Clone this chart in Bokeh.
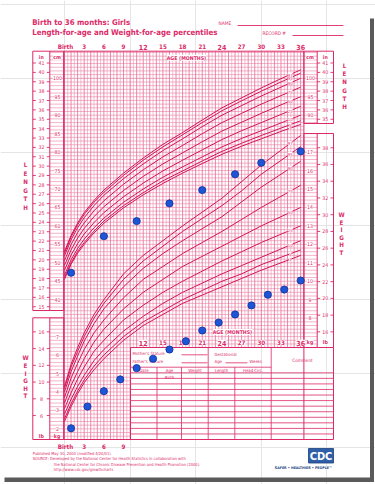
import numpy as np
from bokeh.plotting import figure
from bokeh.models import Range1d
from bokeh.core.properties import value
from bokeh.embed import file_html
from bokeh.resources import INLINE

# ---------------- data ----------------
curve_months = [0, 1, 2, 3, 4.5, 6, 9, 12, 15, 18, 21, 24, 27, 30, 33, 36]
percentile_names = ["3", "5", "10", "25", "50", "75", "90", "95", "97"]

length_p3 = [45.5, 49.6, 52.6, 55.0, 58.1, 60.7, 64.9, 68.4, 71.5, 74.3, 76.9, 79.4, 81.6, 83.6, 85.6, 87.5]
length_p5 = [46.0, 50.0, 53.1, 55.5, 58.6, 61.3, 65.5, 69.0, 72.2, 74.9, 77.6, 80.2, 82.4, 84.5, 86.5, 88.5]
length_p10 = [46.7, 50.8, 53.9, 56.4, 59.5, 62.1, 66.4, 70.0, 73.2, 76.0, 78.7, 81.4, 83.7, 85.8, 87.9, 90.0]
length_p25 = [48.0, 52.1, 55.2, 57.8, 60.9, 63.6, 67.9, 71.6, 74.9, 77.8, 80.6, 83.4, 85.8, 88.0, 90.2, 92.4]
length_p50 = [49.3, 53.5, 56.7, 59.3, 62.5, 65.2, 69.6, 73.4, 76.8, 79.8, 82.8, 85.7, 88.1, 90.5, 92.8, 95.0]
length_p75 = [50.6, 54.9, 58.2, 60.8, 64.1, 66.8, 71.3, 75.2, 78.7, 81.8, 85.0, 88.0, 90.5, 93.0, 95.3, 97.6]
length_p90 = [51.9, 56.2, 59.5, 62.2, 65.5, 68.3, 72.8, 76.8, 80.4, 83.6, 86.9, 90.0, 92.6, 95.2, 97.6, 100.0]
length_p95 = [52.6, 57.0, 60.3, 63.1, 66.4, 69.1, 73.7, 77.8, 81.4, 84.7, 88.0, 91.2, 93.9, 96.5, 99.0, 101.4]
length_p97 = [53.1, 57.4, 60.8, 63.6, 66.9, 69.7, 74.3, 78.4, 82.1, 85.3, 88.7, 92.0, 94.7, 97.4, 99.9, 102.3]

weight_p3 = [2.4, 3.2, 3.9, 4.5, 5.2, 5.8, 6.8, 7.6, 8.2, 8.8, 9.25, 9.7, 10.15, 10.6, 11.0, 11.4]
weight_p5 = [2.55, 3.35, 4.05, 4.65, 5.4, 6.0, 7.0, 7.8, 8.4, 9.0, 9.5, 10.0, 10.4, 10.9, 11.3, 11.7]
weight_p10 = [2.8, 3.6, 4.3, 4.9, 5.7, 6.3, 7.3, 8.1, 8.8, 9.4, 9.9, 10.4, 10.85, 11.3, 11.75, 12.2]
weight_p25 = [3.1, 3.95, 4.7, 5.35, 6.2, 6.8, 7.9, 8.7, 9.4, 10.0, 10.55, 11.1, 11.6, 12.1, 12.55, 13.0]
weight_p50 = [3.4, 4.35, 5.1, 5.8, 6.7, 7.4, 8.5, 9.4, 10.1, 10.8, 11.35, 11.9, 12.45, 13.0, 13.5, 14.0]
weight_p75 = [3.7, 4.75, 5.55, 6.3, 7.2, 7.9, 9.1, 10.1, 10.8, 11.5, 12.1, 12.7, 13.35, 14.0, 14.6, 15.2]
weight_p90 = [4.0, 5.1, 5.95, 6.75, 7.7, 8.5, 9.7, 10.7, 11.5, 12.2, 12.85, 13.5, 14.3, 15.1, 15.8, 16.5]
weight_p95 = [4.2, 5.35, 6.2, 7.0, 8.0, 8.8, 10.1, 11.1, 11.9, 12.7, 13.4, 14.1, 14.9, 15.8, 16.55, 17.3]
weight_p97 = [4.3, 5.5, 6.4, 7.2, 8.2, 9.0, 10.4, 11.4, 12.2, 13.0, 13.75, 14.5, 15.4, 16.3, 17.1, 17.9]

length_months = [1, 6, 11, 16, 21, 26, 30, 36]
length_cm = [47.3, 57.2, 61.3, 66.1, 69.7, 74.0, 77.1, 80.2]
weight_months = [1, 3.5, 6, 8.5, 11, 13.5, 16, 18.5, 21, 23.5, 26, 28.5, 31, 33.5, 36]
weight_kg = [2.03, 3.21, 4.04, 4.68, 5.29, 5.80, 6.30, 6.75, 7.33, 7.76, 8.20, 8.69, 9.27, 9.55, 10.04]

top_age_labels = ["Birth", "3", "6", "9", "12", "15", "18", "21", "24", "27", "30", "33", "36"]
top_age_months = [0, 3, 6, 9, 12, 15, 18, 21, 24, 27, 30, 33, 36]
lower_age_labels = ["12", "15", "18", "21", "24", "27", "30", "33", "36"]
lower_age_months = [12, 15, 18, 21, 24, 27, 30, 33, 36]
bottom_age_labels = ["Birth", "3", "6", "9"]
bottom_age_months = [0, 3, 6, 9]

left_cm_ticks = [40, 45, 50, 55, 60, 65, 70, 75, 80, 85, 90, 95, 100]
left_in_ticks = list(range(15, 42))
right_cm_ticks = [90, 95, 100]
right_in_ticks = list(range(35, 42))
left_kg_ticks = [2, 3, 4, 5, 6, 7]
left_lb_ticks = [6, 8, 10, 12, 14, 16]
right_kg_ticks = [8, 9, 10, 11, 12, 13, 14, 15, 16, 17]
right_lb_ticks = [16, 18, 20, 22, 24, 26, 28, 30, 32, 34, 36, 38]

# ---------------- geometry / style ----------------
W, H = 375, 484
X0, XS = 64.0, 6.56        # page px of birth, px per month
Y50, CS = 262.3, 3.69      # page px of 50 cm, px per cm
KG50 = 11.0                # kg value sharing the 50 cm line (1 cm == 0.2 kg)

PINK = "#DC2A68"
GRID = "#EA6994"
CURVE = "#D0165A"
NARROW = "Liberation Sans Narrow, DejaVu Sans Condensed, Liberation Sans, sans-serif"


def X(px):
    return (px - X0) / XS


def Y(py):
    return 50 + (Y50 - py) / CS


p = figure(width=W, height=H, output_backend="svg", toolbar_location=None,
           x_axis_location=None, y_axis_location=None, min_border=0,
           x_range=Range1d(X(0), X(W)), y_range=Range1d(Y(H), Y(0)))
p.extra_y_ranges = {"kg": Range1d(KG50 + (Y(H) - 50) / 5, KG50 + (Y(0) - 50) / 5)}
p.outline_line_color = None
p.background_fill_color = "white"
p.border_fill_color = "white"


def segs(lst, color=PINK, width=1.0, alpha=1.0):
    p.segment(x0=[X(a[0]) for a in lst], y0=[Y(a[1]) for a in lst],
              x1=[X(a[2]) for a in lst], y1=[Y(a[3]) for a in lst],
              line_color=color, line_width=width, line_alpha=alpha)


def box(x0, y0, x1, y1, color=PINK, width=1.0):
    segs([(x0, y0, x1, y0), (x1, y0, x1, y1), (x1, y1, x0, y1), (x0, y1, x0, y0)], color, width)


def txt(xs, ys, ss, size=5.0, bold=False, align="center", color=PINK, bg=None, yname=None):
    kw = {}
    if bg:
        kw["background_fill_color"] = bg
    if yname:
        kw["y_range_name"] = yname
    p.text(x=xs, y=ys, text=ss, text_font=value(NARROW), text_font_size=f"{size}px",
           text_font_style="bold" if bold else "normal", text_align=align,
           text_baseline="middle", text_color=color, **kw)


def ptxt(px, py, s, **kw):
    txt([X(px)], [Y(py)], [s], **kw)


# ---------------- grid ----------------
GT, GB, GL, GR = 50.7, 439.0, 63.3, 303.4
TBL_X, TBL_Y = 130.0, 347.0
hl = []
for c in range(3, 108):
    py = Y50 - (c - 50) * CS
    x0 = GL
    x1 = GR if py <= TBL_Y else TBL_X
    if (GT <= py <= 310) or (317.3 <= py <= GB):
        x0 = 49.3
    if x1 == GR and ((GT <= py <= 123) or (133 <= py <= TBL_Y)):
        x1 = 316.7
    hl.append((x0, py, x1, py))
segs(hl, GRID, 0.6, 0.85)
vl_full, vl_half = [], []
for h in range(0, 74):
    px = X0 + (h / 2) * XS
    if px > GR:
        continue
    y1 = GB if px < TBL_X else TBL_Y
    (vl_full if h % 2 == 0 else vl_half).append((px, GT, px, y1))
segs(vl_full, GRID, 0.8, 1.0)
segs(vl_half, GRID, 0.55, 0.8)

# ---------------- frames ----------------
box(32.3, GT, GL, 310)
segs([(49.3, GT, 49.3, 310)])
box(32.3, 317.3, GL, GB)
segs([(49.3, 317.3, 49.3, GB)])
box(GL, GT, GR, GB)
box(GR, GT, 333, 123)
segs([(316.7, GT, 316.7, 123)])
box(GR, 133, 333, TBL_Y)
segs([(316.7, 133, 316.7, TBL_Y)])
box(TBL_X, TBL_Y, 333, GB)

# scale tick marks
ticks = []
for v in left_in_ticks:
    py = Y50 - (v * 2.54 - 50) * CS
    ticks += [(32.3, py, 35.3, py), (46.3, py, 49.3, py)]
for v in right_in_ticks:
    py = Y50 - (v * 2.54 - 50) * CS
    ticks += [(316.7, py, 319.7, py), (330, py, 333, py)]
for v in left_lb_ticks:
    py = Y50 - ((v * 0.45359 - KG50) * 5) * CS
    ticks += [(32.3, py, 35.3, py), (46.3, py, 49.3, py)]
for v in right_lb_ticks:
    py = Y50 - ((v * 0.45359 - KG50) * 5) * CS
    ticks += [(316.7, py, 319.7, py), (330, py, 333, py)]
segs(ticks, PINK, 0.9)

# ---------------- percentile curves ----------------
length_curves = [length_p3, length_p5, length_p10, length_p25, length_p50,
                 length_p75, length_p90, length_p95, length_p97]
weight_curves = [weight_p3, weight_p5, weight_p10, weight_p25, weight_p50,
                 weight_p75, weight_p90, weight_p95, weight_p97]
for vals in length_curves:
    p.line(curve_months, vals, line_color=CURVE, line_width=1.0)
for vals in weight_curves:
    p.line(curve_months, vals, line_color=CURVE, line_width=1.0, y_range_name="kg")
lab_m = 34.4
txt([lab_m] * 9, [float(np.interp(lab_m, curve_months, v)) for v in length_curves],
    percentile_names, size=4.2, bg="white")
txt([lab_m] * 9, [float(np.interp(lab_m, curve_months, v)) for v in weight_curves],
    percentile_names, size=4.2, bg="white", yname="kg")

# ---------------- scale labels ----------------
txt([X(57)] * len(left_cm_ticks), left_cm_ticks, [str(v) for v in left_cm_ticks], size=5.2, bg="white")
txt([X(41)] * len(left_in_ticks), [v * 2.54 for v in left_in_ticks], [str(v) for v in left_in_ticks], size=5.2, bg="white")
txt([X(310)] * len(right_cm_ticks), right_cm_ticks, [str(v) for v in right_cm_ticks], size=5.2, bg="white")
txt([X(324.8)] * len(right_in_ticks), [v * 2.54 for v in right_in_ticks], [str(v) for v in right_in_ticks], size=5.2, bg="white")
txt([X(57)] * len(left_kg_ticks), left_kg_ticks, [str(v) for v in left_kg_ticks], size=5.2, bg="white", yname="kg")
txt([X(41)] * len(left_lb_ticks), [v * 0.45359 for v in left_lb_ticks], [str(v) for v in left_lb_ticks], size=5.2, bg="white", yname="kg")
txt([X(309.5)] * len(right_kg_ticks), right_kg_ticks, [str(v) for v in right_kg_ticks], size=5.2, bg="white", yname="kg")
txt([X(324.8)] * len(right_lb_ticks), [v * 0.45359 for v in right_lb_ticks], [str(v) for v in right_lb_ticks], size=5.2, bg="white", yname="kg")

ptxt(40.8, 56.2, "in", size=5.2, bold=True, bg="white")
ptxt(56.5, 56.2, "cm", size=5.2, bold=True, bg="white")
ptxt(309.5, 56.2, "cm", size=5.2, bold=True, bg="white")
ptxt(324.8, 56.2, "in", size=5.2, bold=True, bg="white")
ptxt(40.8, 435.5, "lb", size=5.2, bold=True, bg="white")
ptxt(56.5, 435.5, "kg", size=5.2, bold=True, bg="white")
ptxt(309.5, 341.5, "kg", size=5.2, bold=True, bg="white")
ptxt(324.8, 341.5, "lb", size=5.2, bold=True, bg="white")

# side words
for i, ch in enumerate("LENGTH"):
    ptxt(25, 164 + i * 8.6, ch, size=6.2, bold=True)
    ptxt(344, 65 + i * 8.2, ch, size=6.2, bold=True)
for i, ch in enumerate("WEIGHT"):
    ptxt(25, 357.3 + i * 7.6, ch, size=6.2, bold=True)
    ptxt(341, 214 + i * 7.6, ch, size=6.2, bold=True)

# age labels (12, 24, 36 emphasised)
big = {"12", "24", "36"}
for lab, m in zip(top_age_labels, top_age_months):
    txt([0.15 if m == 0 else m], [Y(46)], [lab], size=7.0 if lab in big else 6.2, bold=True)
for lab, m in zip(lower_age_labels, lower_age_months):
    txt([m], [Y(342.3)], [lab], size=7.0 if lab in big else 6.2, bold=True, bg="white")
txt([0.15] + bottom_age_months[1:], [Y(445.5)] * len(bottom_age_months), bottom_age_labels, size=6.2, bold=True)
ptxt(186, 57.3, "AGE (MONTHS)", size=5.2, bold=True, bg="white")
ptxt(232, 331.5, "AGE (MONTHS)", size=5.2, bold=True, bg="white")

# ---------------- titles ----------------
ptxt(31.7, 21.5, "Birth to 36 months: Girls", size=7.8, bold=True, align="left")
ptxt(31.7, 31.5, "Length-for-age and Weight-for-age percentiles", size=7.8, bold=True, align="left")
ptxt(218, 23, "NAME", size=4.8, align="left")
segs([(237, 25, 343, 25)], PINK, 0.9)
ptxt(262, 33, "RECORD #", size=4.8, align="left")
segs([(292, 35, 343, 35)], PINK, 0.9)

# ---------------- table ----------------
tl = [(TBL_X, 366.7, 270.7, 366.7)]
for i in range(0, 12):
    yy = 372.3 + i * 5.56
    tl.append((TBL_X, yy, 333, yy))
tl += [(156.5, 366.7, 156.5, GB), (181, 366.7, 181, GB), (207.7, TBL_Y, 207.7, GB),
       (234.3, 366.7, 234.3, GB), (270.7, TBL_Y, 270.7, GB),
       (181, 354.3, 207, 354.3), (181, 362.3, 207, 362.3), (225, 362.3, 247, 362.3)]
segs(tl, PINK, 0.8)
ptxt(132, 352.7, "Mother's Stature", size=4.3, align="left")
ptxt(132, 361, "Father's Stature", size=4.3, align="left")
ptxt(214, 354, "Gestational", size=4.3, align="left")
ptxt(214, 361, "Age", size=4.3, align="left")
ptxt(249, 361, "Weeks", size=4.3, align="left")
ptxt(302, 360, "Comment", size=4.6)
txt([X(143.5), X(169), X(194.5), X(221), X(252.5)], [Y(369.5)] * 5,
    ["Date", "Age", "Weight", "Length", "Head Circ."], size=4.3)
ptxt(169, 376.5, "Birth", size=4.3)

# ---------------- footer ----------------
ptxt(32.3, 452.7, "Published May 30, 2000 (modified 4/20/01).", size=4.0, align="left")
ptxt(32.3, 458.3, "SOURCE: Developed by the National Center for Health Statistics in collaboration with", size=4.0, align="left")
ptxt(53.3, 463.5, "the National Center for Chronic Disease Prevention and Health Promotion (2000).", size=4.0, align="left")
ptxt(53.3, 469, "http://www.cdc.gov/growthcharts", size=4.0, align="left")

# CDC logo
p.quad(left=[X(308)], right=[X(333)], bottom=[Y(462.5)], top=[Y(448)],
       fill_color="#2E5FA8", line_color="#1B3F7E", line_width=0.8)
ptxt(320.5, 455.5, "CDC", size=11, bold=True, color="white")
ptxt(303, 467, "SAFER \u2022 HEALTHIER \u2022 PEOPLE\u2122", size=3.6, bold=True, color="#1B3F7E")

# page shadow
p.quad(left=[X(369.5)], right=[X(373.5)], bottom=[Y(481.5)], top=[Y(18)],
       fill_color="#5A5A5A", line_color=None)
p.quad(left=[X(4)], right=[X(373.5)], bottom=[Y(481.5)], top=[Y(477)],
       fill_color="#5A5A5A", line_color=None)

# ---------------- patient data ----------------
p.scatter(length_months, length_cm, size=7.2, fill_color="#1E55D6", line_color="#0E3199", line_width=0.8)
p.scatter(weight_months, weight_kg, size=7.2, fill_color="#1E55D6", line_color="#0E3199", line_width=0.8,
          y_range_name="kg")

open("out.html", "w").write(file_html(p, INLINE))
